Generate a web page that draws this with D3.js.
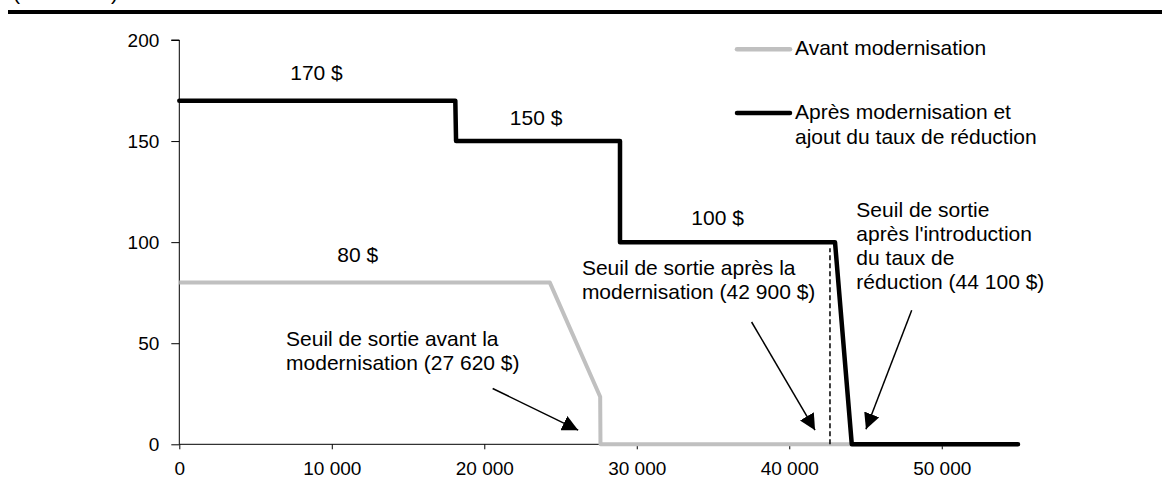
<!DOCTYPE html>
<html>
<head>
<meta charset="utf-8">
<script src="https://cdn.jsdelivr.net/npm/d3@7"></script>
<style>
  html, body { margin: 0; padding: 0; background: #fff; }
  svg { display: block; font-family: "Liberation Sans", Arial, sans-serif; }
</style>
</head>
<body>
<svg id="chart" width="1162" height="483"></svg>
<script>
// ---- Data ----
const seriesNames = ["Avant modernisation", "Après modernisation et ajout du taux de réduction"];
const avantX = [0, 24300, 27600, 27620, 55000];
const avantY = [80, 80, 23.5, 0, 0];
const apresX = [0, 18100, 18150, 28900, 28900, 43000, 44100, 55000];
const apresY = [170, 170, 150, 150, 100, 100, 0, 0];
const xTicks = [0, 10000, 20000, 30000, 40000, 50000];
const xTickLabels = ["0", "10 000", "20 000", "30 000", "40 000", "50 000"];
const yTicks = [0, 50, 100, 150, 200];
const stepLabels = ["170 $", "150 $", "100 $", "80 $"];
const stepLabelX = [9000, 23400, 35300, 11700];
const stepLabelY = [180, 158, 108.5, 90];
const dashedX = 42670;
const dashedTop = 97;
const annotTexts = [
  ["Seuil de sortie avant la", "modernisation (27 620 $)"],
  ["Seuil de sortie après la", "modernisation (42 900 $)"],
  ["Seuil de sortie", "après l'introduction", "du taux de", "réduction (44 100 $)"]
];
const annotX = [7000, 26400, 44400];
const annotY = [48.6, 83.8, 112.5];
const arrowFromX = [20550, 37530, 48030];
const arrowFromY = [27.6, 60.5, 66.3];
const arrowToX = [26160, 41690, 45030];
const arrowToY = [7, 7, 7.4];

// ---- Layout ----
const svg = d3.select("#chart");
const x = d3.scaleLinear().domain([0, 55000]).range([179.3, 1018]);
const y = d3.scaleLinear().domain([0, 200]).range([444.3, 40]);

// top rule and clipped unit text
svg.append("line").attr("x1", 8).attr("x2", 1162).attr("y1", 12).attr("y2", 12)
  .attr("stroke", "#000").attr("stroke-width", 4);
svg.append("text").attr("x", 13).attr("y", -0.5).attr("font-size", 21).text("(en dollars)");

// axes
const yAxis = d3.axisLeft(y).tickValues(yTicks).tickSize(8).tickPadding(12);
const gy = svg.append("g").attr("transform", `translate(${x(0)},0)`).call(yAxis);
gy.selectAll("text").attr("font-size", 19).attr("font-family", "Liberation Sans, Arial, sans-serif").attr("fill", "#000");
gy.selectAll("line, path").attr("stroke", "#000");
gy.select(".domain").attr("d", `M-8,${y(200)}H0V${y(0)}`);

const xAxis = d3.axisBottom(x).tickValues(xTicks).tickFormat((d, i) => xTickLabels[i]).tickSize(5).tickPadding(12);
const gx = svg.append("g").attr("transform", `translate(0,${y(0)})`).call(xAxis);
gx.selectAll("text").attr("font-size", 19).attr("font-family", "Liberation Sans, Arial, sans-serif").attr("fill", "#000");
gx.selectAll("line, path").attr("stroke", "#000");
gx.select(".domain").attr("d", `M${x(0)},0H${x(55000)}`);

// lines
const line = d3.line().x(d => x(d[0])).y(d => y(d[1]));
svg.append("path").datum(avantX.map((v, i) => [v, avantY[i]]))
  .attr("d", line).attr("fill", "none").attr("stroke", "#c0c0c0")
  .attr("stroke-width", 4).attr("stroke-linejoin", "round");
svg.append("line").attr("x1", x(dashedX)).attr("x2", x(dashedX))
  .attr("y1", y(0)).attr("y2", y(dashedTop))
  .attr("stroke", "#000").attr("stroke-width", 1.5).attr("stroke-dasharray", "5,3");
svg.append("path").datum(apresX.map((v, i) => [v, apresY[i]]))
  .attr("d", line).attr("fill", "none").attr("stroke", "#000")
  .attr("stroke-width", 4.5).attr("stroke-linejoin", "round").attr("stroke-linecap", "round");

// step labels
stepLabels.forEach((t, i) => {
  svg.append("text").attr("x", x(stepLabelX[i])).attr("y", y(stepLabelY[i]))
    .attr("text-anchor", "middle").attr("font-size", 21).attr("fill", "#000").text(t);
});

// annotations
annotTexts.forEach((lines, i) => {
  const t = svg.append("text").attr("x", x(annotX[i])).attr("y", y(annotY[i]))
    .attr("font-size", 21).attr("fill", "#000");
  lines.forEach((l, j) => {
    t.append("tspan").attr("x", x(annotX[i])).attr("dy", j === 0 ? 0 : 24.2).text(l);
  });
});

// arrows
svg.append("defs").append("marker").attr("id", "arrow")
  .attr("viewBox", "0 0 10 10").attr("refX", 10).attr("refY", 5)
  .attr("markerWidth", 16).attr("markerHeight", 16).attr("markerUnits", "userSpaceOnUse")
  .attr("orient", "auto")
  .append("path").attr("d", "M0,0L10,5L0,10Z").attr("fill", "#000");
arrowFromX.forEach((fx, i) => {
  svg.append("line").attr("x1", x(fx)).attr("y1", y(arrowFromY[i]))
    .attr("x2", x(arrowToX[i])).attr("y2", y(arrowToY[i]))
    .attr("stroke", "#000").attr("stroke-width", 1.5).attr("marker-end", "url(#arrow)");
});

// legend
const legendY = [49.3, 113];
const legendColors = ["#c0c0c0", "#000"];
const legendLines = [["Avant modernisation"], ["Après modernisation et", "ajout du taux de réduction"]];
legendY.forEach((ly, i) => {
  svg.append("line").attr("x1", 737).attr("x2", 790).attr("y1", ly).attr("y2", ly)
    .attr("stroke", legendColors[i]).attr("stroke-width", 4.5).attr("stroke-linecap", "round");
  const t = svg.append("text").attr("x", 795).attr("y", ly + 6).attr("font-size", 21).attr("fill", "#000");
  legendLines[i].forEach((l, j) => {
    t.append("tspan").attr("x", 795).attr("dy", j === 0 ? 0 : 25).text(l);
  });
});
</script>
</body>
</html>
